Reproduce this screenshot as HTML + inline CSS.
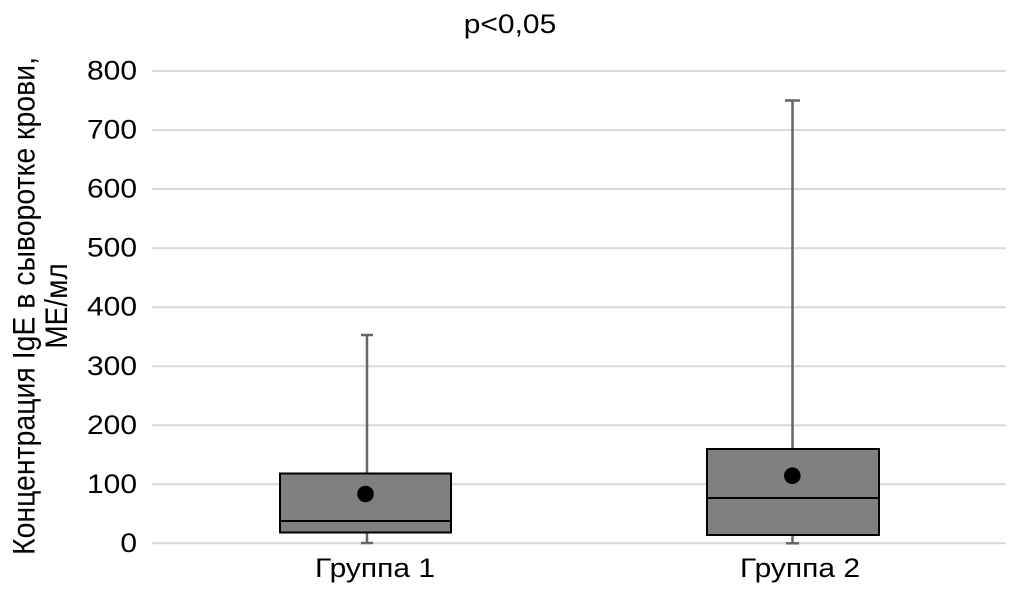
<!DOCTYPE html>
<html>
<head>
<meta charset="utf-8">
<style>
html,body{margin:0;padding:0;background:#fff;}
svg{display:block;}
text{font-family:"Liberation Sans","DejaVu Sans",sans-serif;fill:#000;}
</style>
</head>
<body>
<svg width="1013" height="601" viewBox="0 0 1013 601" xmlns="http://www.w3.org/2000/svg">
  <rect x="0" y="0" width="1013" height="601" fill="#fff"/>
  <!-- title -->
  <text transform="translate(510,33) scale(1.11,1)" font-size="27" text-anchor="middle">p&lt;0,05</text>

  <!-- grid -->
  <g stroke="#d9d9d9" stroke-width="2">
    <line x1="152" y1="71" x2="1006" y2="71"/>
    <line x1="152" y1="130" x2="1006" y2="130"/>
    <line x1="152" y1="189" x2="1006" y2="189"/>
    <line x1="152" y1="248.2" x2="1006" y2="248.2"/>
    <line x1="152" y1="307.2" x2="1006" y2="307.2"/>
    <line x1="152" y1="366.3" x2="1006" y2="366.3"/>
    <line x1="152" y1="425.3" x2="1006" y2="425.3"/>
    <line x1="152" y1="484.3" x2="1006" y2="484.3"/>
    <line x1="152" y1="543.3" x2="1006" y2="543.3"/>
  </g>

  <!-- y tick labels -->
  <g font-size="27" text-anchor="end">
    <text transform="translate(137,79.5) scale(1.11,1)">800</text>
    <text transform="translate(137,138.5) scale(1.11,1)">700</text>
    <text transform="translate(137,197.5) scale(1.11,1)">600</text>
    <text transform="translate(137,256.7) scale(1.11,1)">500</text>
    <text transform="translate(137,315.7) scale(1.11,1)">400</text>
    <text transform="translate(137,374.8) scale(1.11,1)">300</text>
    <text transform="translate(137,433.8) scale(1.11,1)">200</text>
    <text transform="translate(137,492.8) scale(1.11,1)">100</text>
    <text transform="translate(137,551.8) scale(1.11,1)">0</text>
  </g>

  <!-- y axis label -->
  <text transform="translate(34.5,306) scale(1.11,1) rotate(-90)" font-size="28" text-anchor="middle" textLength="498" lengthAdjust="spacingAndGlyphs">Концентрация IgE в сыворотке крови,</text>
  <text transform="translate(67,306) scale(1.11,1) rotate(-90)" font-size="28" text-anchor="middle">МЕ/мл</text>

  <!-- whiskers -->
  <g stroke="#666" stroke-width="2.5">
    <line x1="367" y1="335" x2="367" y2="473"/>
    <line x1="361" y1="335" x2="373" y2="335"/>
    <line x1="367" y1="532" x2="367" y2="543"/>
    <line x1="361" y1="543" x2="373" y2="543"/>

    <line x1="792.5" y1="100.5" x2="792.5" y2="449"/>
    <line x1="785" y1="100.5" x2="800" y2="100.5"/>
    <line x1="792.5" y1="535" x2="792.5" y2="543.3"/>
    <line x1="786" y1="543.3" x2="799" y2="543.3"/>
  </g>

  <!-- boxes -->
  <rect x="280" y="473.5" width="171" height="59" fill="#808080" stroke="#000" stroke-width="2"/>
  <line x1="280" y1="521" x2="451" y2="521" stroke="#000" stroke-width="2"/>
  <rect x="707" y="449" width="172" height="86" fill="#808080" stroke="#000" stroke-width="2"/>
  <line x1="707" y1="498" x2="879" y2="498" stroke="#000" stroke-width="2"/>

  <!-- means -->
  <circle cx="365.5" cy="494" r="8.3" fill="#000"/>
  <circle cx="792.3" cy="475.7" r="8.3" fill="#000"/>

  <!-- x labels -->
  <text transform="translate(375,577) scale(1.11,1)" font-size="27" text-anchor="middle">Группа 1</text>
  <text transform="translate(800,577) scale(1.11,1)" font-size="27" text-anchor="middle">Группа 2</text>
</svg>
</body>
</html>
